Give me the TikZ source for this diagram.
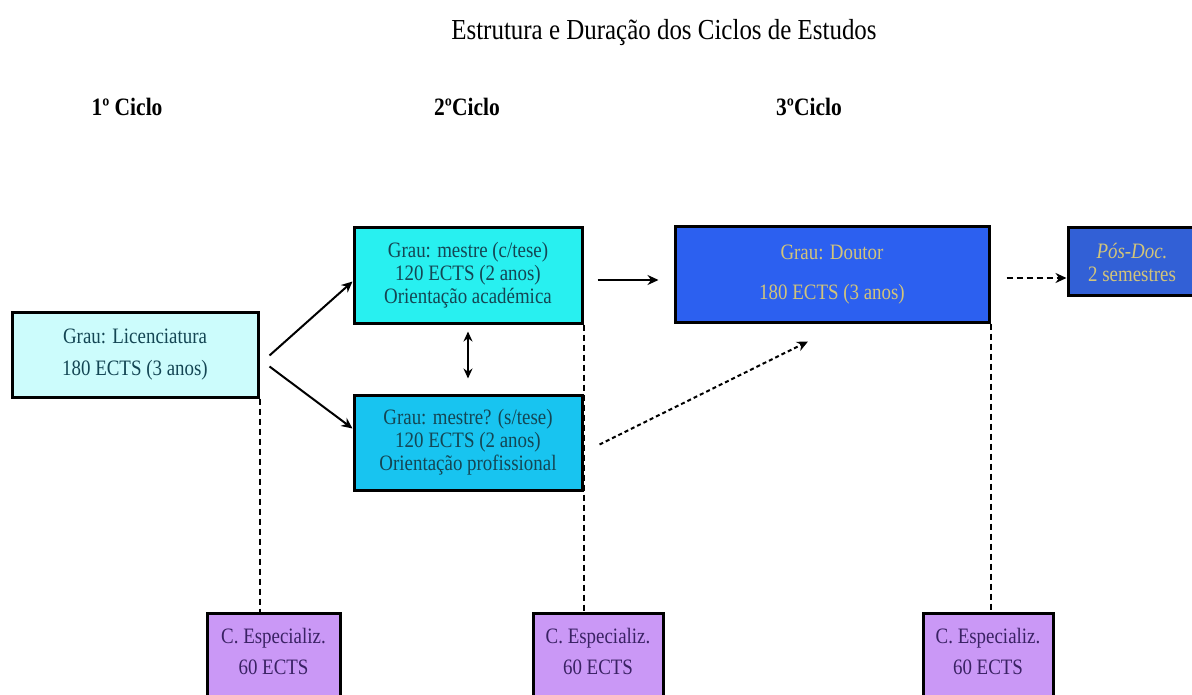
\documentclass[tikz,border=0pt]{standalone}
\usepackage{fontspec}
\setmainfont{Liberation Serif}[FakeStretch=0.86]
\usetikzlibrary{arrows.meta}

\definecolor{licfill}{RGB}{204,252,252}
\definecolor{comfill}{RGB}{40,240,240}
\definecolor{semfill}{RGB}{24,196,240}
\definecolor{doutfill}{RGB}{44,96,240}
\definecolor{posfill}{RGB}{50,96,214}
\definecolor{espfill}{RGB}{202,152,246}
\definecolor{tealtext}{RGB}{20,70,84}
\definecolor{goldtext}{RGB}{210,196,122}
\definecolor{purpletext}{RGB}{58,34,100}

\tikzset{
  box/.style={draw=black, line width=3pt, rectangle, inner sep=0pt, align=center,
              font=\fontsize{22}{23}\selectfont},
  cyclelabel/.style={font=\fontsize{25}{28}\selectfont\bfseries},
  solidarrow/.style={line width=2pt, -{Stealth[length=11pt,width=10pt]}},
  dotarrow/.style={line width=2pt, dash pattern=on 4pt off 3pt, -{Stealth[length=11pt,width=10pt]}},
  dasharrow/.style={line width=2.4pt, dash pattern=on 6pt off 4pt, -{Stealth[length=11pt,width=10pt]}},
  dropline/.style={line width=2pt, dash pattern=on 6pt off 4pt},
}

% fixed-size text block for the specialisation courses
\newcommand{\espblock}[1]{\parbox[c][90pt][t]{#1}{\centering\vspace*{15pt}C. Especializ.\\[8pt]60 ECTS}}

\begin{document}
\begin{tikzpicture}[x=1pt,y=-1pt]
\useasboundingbox (0,0) rectangle (1192,695);
\clip (0,0) rectangle (1192,695);
\fill[white] (0,0) rectangle (1192,695);

% headings
\node[font=\fontsize{29}{32}\selectfont] (title) at (664,33) {Estrutura e Duração dos Ciclos de Estudos};
\node[cyclelabel] (c1) at (127,107) {1º Ciclo};
\node[cyclelabel] (c2) at (467,107) {2ºCiclo};
\node[cyclelabel] (c3) at (809,107) {3ºCiclo};

% degree boxes
\node[box, fill=licfill, text=tealtext, minimum width=246pt, minimum height=85pt] (lic) at (135,354.5)
  {Grau: Licenciatura\\[9pt]180 ECTS (3 anos)};
\node[box, fill=comfill, text=tealtext, minimum width=228pt, minimum height=95pt] (mc) at (468,275.5)
  {Grau: mestre (c/tese)\\120 ECTS (2 anos)\\Orientação académica};
\node[box, fill=semfill, text=tealtext, minimum width=228pt, minimum height=95pt] (ms) at (468,442.5)
  {Grau: mestre? (s/tese)\\120 ECTS (2 anos)\\Orientação profissional};
\node[box, fill=doutfill, text=goldtext, minimum width=314pt, minimum height=95pt] (dout) at (832,274.5)
  {Grau: Doutor\\[17pt]180 ECTS (3 anos)};
\node[box, fill=posfill, text=goldtext, minimum width=128pt, minimum height=68pt] (pos) at (1132,262)
  {\itshape Pós-Doc.\\2 semestres};

% specialisation courses (lower edge runs off the page)
\node[box, fill=espfill, text=purpletext, anchor=north] (esp1) at (273.5,612) {\espblock{133pt}};
\node[box, fill=espfill, text=purpletext, anchor=north] (esp2) at (598,612) {\espblock{130pt}};
\node[box, fill=espfill, text=purpletext, anchor=north] (esp3) at (988,612) {\espblock{130pt}};

% dashed drop lines to the specialisation courses
\draw[dropline] (lic.south east) -- (lic.south east |- esp1.north);
\draw[dropline] (mc.south east) -- (mc.south east |- esp2.north);
\draw[dropline] (dout.south east) -- (dout.south east |- esp3.north);

% progression arrows
\draw[solidarrow] ([xshift=10pt,yshift=-1pt]lic.east) -- ([yshift=-6pt]mc.west);
\draw[solidarrow] ([xshift=10pt,yshift=-12pt]lic.east) -- ([yshift=14pt]ms.west);
\draw[line width=1.5pt, {Stealth[length=10pt,width=9pt]}-{Stealth[length=10pt,width=9pt]}]
  ([yshift=-7pt]mc.south) -- ([yshift=15pt]ms.north);
\draw[solidarrow] ([xshift=14pt,yshift=-4.5pt]mc.east) -- ([xshift=-15pt,yshift=-5.5pt]dout.west);
\draw[dotarrow] ([xshift=16pt,yshift=-2pt]ms.east) -- ([xshift=-24pt,yshift=-18pt]dout.south);
\draw[dasharrow] ([xshift=16pt,yshift=-16pt]pos.west -| dout.east) -- ([yshift=-16pt]pos.west);
\end{tikzpicture}
\end{document}
